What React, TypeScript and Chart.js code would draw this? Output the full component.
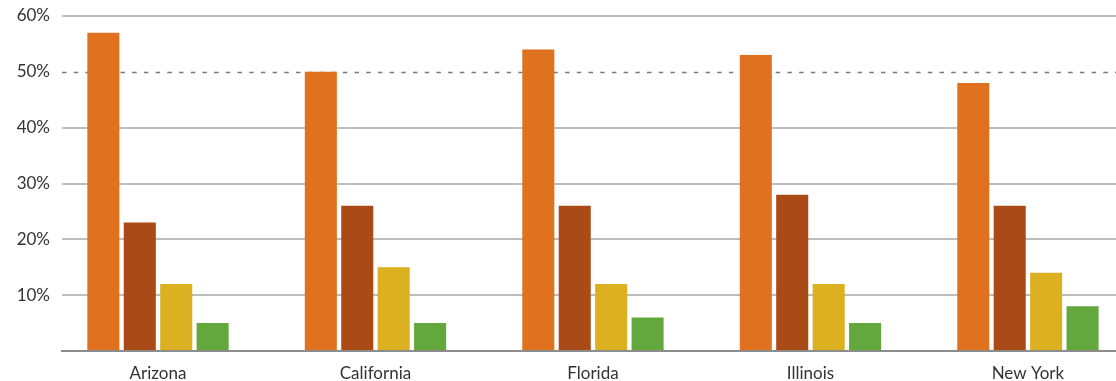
import React, { useEffect, useRef } from "react";
import { Chart, registerables } from "chart.js";

Chart.register(...registerables);

const categories = ["Arizona", "California", "Florida", "Illinois", "New York"];
const seriesA = [57, 50, 54, 53, 48];
const seriesB = [23, 26, 26, 28, 26];
const seriesC = [12, 15, 12, 12, 14];
const seriesD = [5, 5, 6, 5, 8];
const yTicks = [0, 10, 20, 30, 40, 50, 60];
const dashedValue = 50;

const colors = ["#E0711F", "#A94A17", "#DBB122", "#63A83C"];
const seriesNames = ["Series A", "Series B", "Series C", "Series D"];

const toPoints = (vals: number[]) => vals.map((y, x) => ({ x, y }));

const dashedLine = {
  id: "dashedLine",
  beforeDatasetsDraw(chart: any) {
    const { ctx, chartArea, scales } = chart;
    const y = Math.round(scales.y.getPixelForValue(dashedValue)) + 0.5;
    ctx.save();
    ctx.strokeStyle = "#7a7a7a";
    ctx.lineWidth = 1.6;
    ctx.setLineDash([4.5, 7.2]);
    ctx.beginPath();
    ctx.moveTo(chartArea.left, y);
    ctx.lineTo(chartArea.right, y);
    ctx.stroke();
    ctx.restore();
  },
};

export default function App() {
  const ref = useRef<HTMLCanvasElement>(null);

  useEffect(() => {
    if (!ref.current) return;
    const series = [seriesA, seriesB, seriesC, seriesD];
    const chart = new Chart(ref.current, {
      type: "bar",
      data: {
        datasets: series.map((vals, i) => ({
          label: seriesNames[i],
          data: toPoints(vals),
          backgroundColor: colors[i],
          borderWidth: 0,
          categoryPercentage: 0.67,
          barPercentage: 0.88,
        })),
      },
      options: {
        animation: false,
        responsive: true,
        maintainAspectRatio: false,
        layout: { padding: { top: 16, right: 0, bottom: 0, left: 0 } },
        plugins: { legend: { display: false }, tooltip: { enabled: false } },
        scales: {
          x: {
            type: "linear",
            offset: false,
            min: -0.4414,
            max: 4.405,
            grid: { display: false, offset: false },
            border: { display: true, color: "#8c8c8c", width: 2 },
            afterBuildTicks: (s: any) => {
              s.ticks = categories.map((_, i) => ({ value: i }));
            },
            afterFit: (s: any) => {
              s.height = 30;
              s.paddingLeft = 0;
              s.paddingRight = 0;
            },
            ticks: {
              autoSkip: false,
              maxRotation: 0,
              padding: 4,
              color: "#333",
              font: { family: "Lato", size: 17 },
              callback: (v: any) => categories[v] ?? "",
            },
          },
          y: {
            min: 0,
            max: 60,
            afterBuildTicks: (s: any) => {
              s.ticks = yTicks.map((value) => ({ value }));
            },
            afterFit: (s: any) => {
              s.width = 62;
              s.paddingTop = 0;
              s.paddingBottom = 0;
            },
            border: { display: false },
            grid: {
              drawTicks: false,
              lineWidth: 2,
              color: (c: any) =>
                c.tick && (c.tick.value === 0 || c.tick.value === dashedValue)
                  ? "rgba(0,0,0,0)"
                  : "#bdbdbd",
            },
            ticks: {
              padding: 12,
              color: "#333",
              font: { family: "Lato", size: 17 },
              callback: (v: any) => (v === 0 ? "" : v + "%"),
            },
          },
        },
      },
      plugins: [dashedLine],
    });
    return () => chart.destroy();
  }, []);

  return (
    <div style={{ position: "absolute", left: 0, top: 0, width: 1116, height: 381 }}>
      <canvas ref={ref} />
    </div>
  );
}
